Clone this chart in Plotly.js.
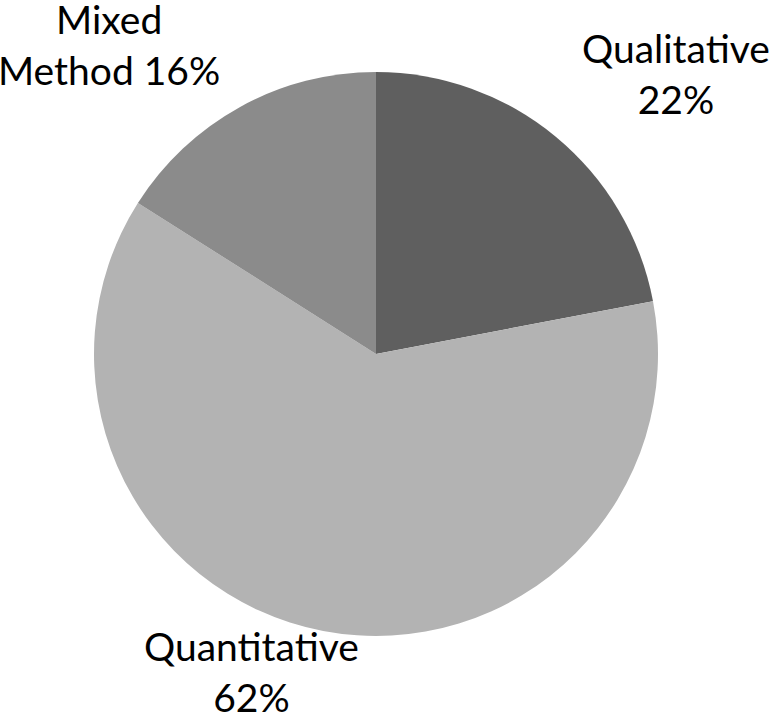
<!DOCTYPE html>
<html>
<head>
<meta charset="utf-8">
<script src="https://cdn.plot.ly/plotly-3.0.1.min.js"></script>
<style>html,body{margin:0;padding:0;background:#fff;}#chart{width:771px;height:712px;}</style>
</head>
<body>
<div id="chart"></div>
<script>
const categories = ["Qualitative", "Quantitative", "Mixed Method"];
const values = [22, 62, 16];
const colors = ["#5f5f5f", "#b3b3b3", "#8b8b8b"];
const labelLines = [["Qualitative", "22%"], ["Quantitative", "62%"], ["Mixed", "Method 16%"]];
const labelPos = [[676, 74], [251, 671], [109, 45]]; // pixel centers

const W = 771, H = 712;
const trace = {
  type: "pie",
  labels: categories,
  values: values,
  marker: {colors: colors, line: {width: 0}},
  sort: false,
  direction: "clockwise",
  rotation: 0,
  textinfo: "none",
  hoverinfo: "label+percent",
  domain: {x: [94 / W, 658 / W], y: [1 - 636 / H, 1 - 72 / H]}
};
const annotations = labelLines.map((l, i) => ({
  text: l.join("<br>"),
  x: labelPos[i][0] / W,
  y: 1 - labelPos[i][1] / H,
  xref: "paper", yref: "paper",
  xanchor: "center", yanchor: "middle",
  showarrow: false,
  align: "center",
  font: {family: "Lato, 'Open Sans', sans-serif", size: 39, color: "#000"}
}));
Plotly.newPlot("chart", [trace], {
  width: W, height: H,
  margin: {l: 0, r: 0, t: 0, b: 0},
  showlegend: false,
  paper_bgcolor: "#fff",
  annotations: annotations
}, {displayModeBar: false, staticPlot: true});
</script>
</body>
</html>
